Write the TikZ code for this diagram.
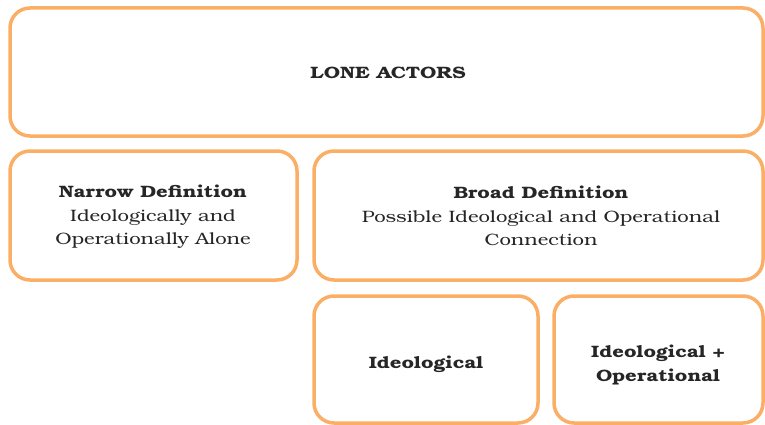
\documentclass[tikz,border=0pt]{standalone}
\usepackage{fontspec}
\setmainfont[FakeStretch=1.23]{TeX Gyre Bonum}
\definecolor{boxorange}{HTML}{FBAE66}
\tikzset{
  card/.style={draw=boxorange, line width=3.5pt, rounded corners=20pt, fill=white},
  txt/.style={align=center, font=\fontsize{16.5}{23.5}\selectfont, inner sep=0pt, text=black!85}
}
\begin{document}
\begin{tikzpicture}[x=1pt,y=-1pt]
\useasboundingbox (0,0) rectangle (765,425);
\draw[card] (10,8) rectangle (763,136);
\draw[card] (10,151) rectangle (297,280);
\draw[card] (314,151) rectangle (763,280);
\draw[card] (314,296) rectangle (538,423);
\draw[card] (554,296) rectangle (763,423);
\node[txt] (lone) at (388,73) {\textbf{LONE ACTORS}};
\node[txt] (narrow) at (153,217) {\textbf{Narrow Definition}\\Ideologically and\\Operationally Alone};
\node[txt] (broad) at (541,216) {\textbf{Broad Definition}\\Possible Ideological and Operational\\Connection};
\node[txt] (ideo) at (426,364) {\textbf{Ideological}};
\node[txt] (ideoop) at (658,365) {\textbf{Ideological +}\\\textbf{Operational}};
\end{tikzpicture}
\end{document}
